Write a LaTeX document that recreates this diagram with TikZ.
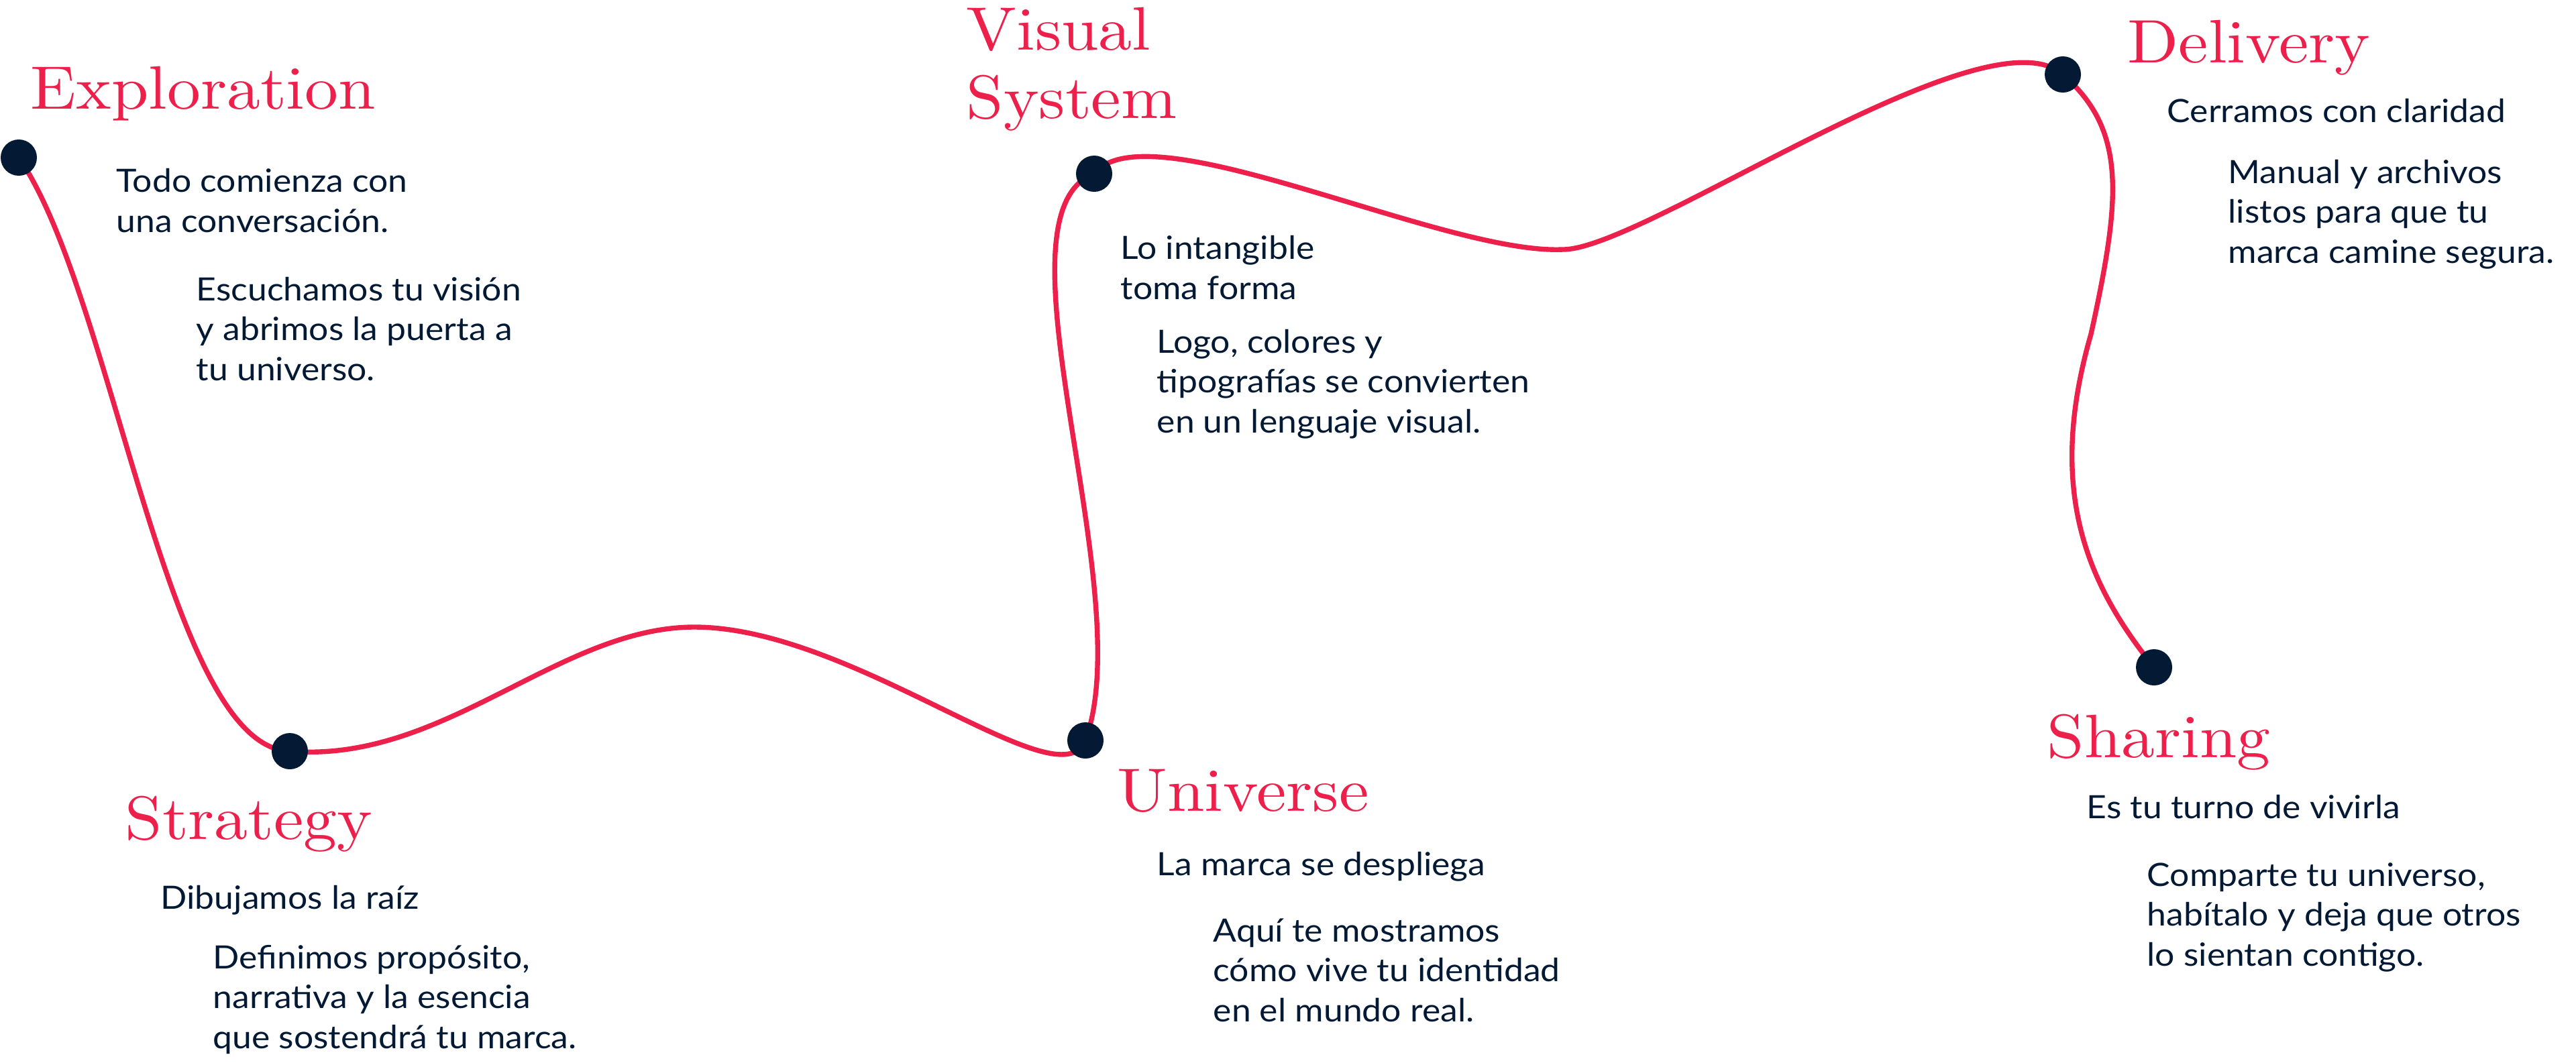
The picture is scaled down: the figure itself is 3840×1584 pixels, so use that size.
\documentclass[tikz,border=0pt]{standalone}
\usepackage{fontspec}
\newfontfamily\bodyfont{Lato}[FakeStretch=1.08]
\newfontfamily\stagefont{lmroman10-regular.otf}[FakeStretch=1.09]
\usetikzlibrary{backgrounds}
\definecolor{stagered}{RGB}{237,31,75}
\definecolor{dotnavy}{RGB}{3,25,52}

\begin{document}
\begin{tikzpicture}[x=0.01cm, y=-0.01cm,
  dot/.style={circle, fill=dotnavy, minimum size=0.54cm, inner sep=0pt},
  stage/.style={anchor=base west, inner sep=0pt, text=stagered, align=left, font=\stagefont\fontsize{26pt}{29pt}\selectfont},
  lead/.style={anchor=base west, inner sep=0pt, text=dotnavy, align=left, font=\bodyfont\fontsize{13.6pt}{16.8pt}\selectfont},
  thread/.style={draw=stagered, line width=2.1pt},
]
\useasboundingbox (0,0) rectangle (3840,1584);
\node[dot] (ex) at (28,235) {};
\node[dot] (st) at (432,1120) {};
\node[dot] (un) at (1618,1104) {};
\node[dot] (vi) at (1631,259) {};
\node[dot] (de) at (3075,111) {};
\node[dot] (sh) at (3211,995) {};
\coordinate (crest) at (1035,935);
\coordinate (dip) at (2330,372);
\coordinate (sway) at (3117,498);

\begin{scope}[on background layer]
\draw[thread] (ex.center) .. controls (170,440) and (250,1115) .. (st.center)
  .. controls (661,1139) and (833,935) .. (crest)
  .. controls (1273,935) and (1580,1200) .. (un.center)
  .. controls (1700,880) and (1470,320) .. (vi.center)
  .. controls (1710,160) and (2150,380) .. (dip)
  .. controls (2450,372) and (2960,10) .. (de.center)
  .. controls (3170,194) and (3162,293) .. (sway)
  .. controls (3050,730) and (3110,870) .. (sh.center);
\end{scope}

\node[stage] (exT) at (45,162) {Exploration};
\node[lead] (exA) at (173,346) {Todo comienza con\\una conversación.};
\node[lead] (exB) at (292,567) {Escuchamos tu visión\\y abrimos la puerta a\\tu universo.};

\node[stage] (stT) at (186,1251) {Strategy};
\node[lead] (stA) at (239,1355) {Dibujamos la raíz};
\node[lead] (stB) at (317,1563) {Definimos propósito,\\narrativa y la esencia\\que sostendrá tu marca.};

\node[stage] (unT) at (1665,1209) {Universe};
\node[lead] (unA) at (1724,1305) {La marca se despliega};
\node[lead] (unB) at (1808,1523) {Aquí te mostramos\\cómo vive tu identidad\\en el mundo real.};

\node[stage] (viT) at (1440,176) {Visual\\System};
\node[lead] (viA) at (1670,446) {Lo intangible\\toma forma};
\node[lead] (viB) at (1724,645) {Logo, colores y\\tipografías se convierten\\en un lenguaje visual.};

\node[stage] (deT) at (3171,93) {Delivery};
\node[lead] (deA) at (3230,182) {Cerramos con claridad};
\node[lead] (deB) at (3321,392) {Manual y archivos\\listos para que tu\\marca camine segura.};

\node[stage] (shT) at (3051,1129) {Sharing};
\node[lead] (shA) at (3110,1220) {Es tu turno de vivirla};
\node[lead] (shB) at (3200,1440) {Comparte tu universo,\\habítalo y deja que otros\\lo sientan contigo.};
\end{tikzpicture}
\end{document}
